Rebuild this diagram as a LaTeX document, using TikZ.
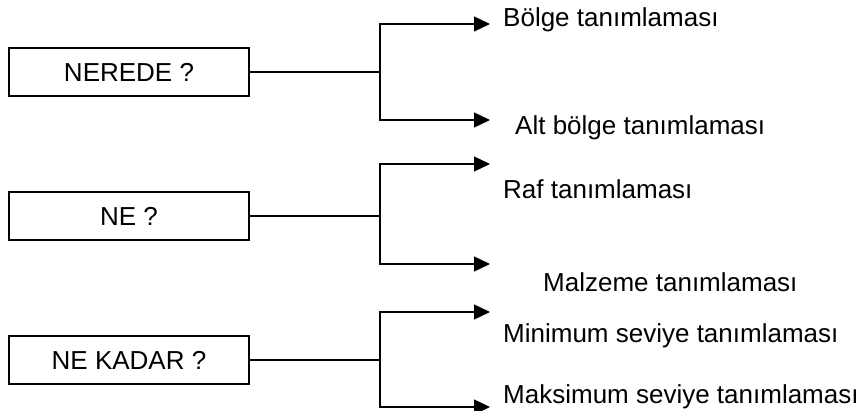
\documentclass[tikz,border=0pt]{standalone}
\usepackage{fontspec}
\setmainfont{Liberation Sans}
\usetikzlibrary{arrows.meta}
\begin{document}
\begin{tikzpicture}[x=1pt,y=-1pt,
  qbox/.style={draw,line width=1.2pt,minimum width=240pt,minimum height=48pt,inner sep=0pt,font=\fontsize{26}{30}\selectfont},
  lab/.style={anchor=base west,inner sep=0pt,font=\fontsize{26}{30}\selectfont},
  conn/.style={line width=1.2pt},
  arr/.style={line width=1.2pt,-{Triangle[length=16pt,width=15pt]}}]
\useasboundingbox (0,0) rectangle (866,411);
% boxes
\node[qbox] (b1) at (129,72) {NEREDE ?};
\node[qbox] (b2) at (129,216) {NE ?};
\node[qbox] (b3) at (129,360) {NE KADAR ?};
% junctions
\coordinate (j1) at (380,72);
\coordinate (j2) at (380,216);
\coordinate (j3) at (380,360);
% arrow ends
\coordinate (e1) at (490,24);
\coordinate (e2) at (490,120);
\coordinate (e3) at (490,164);
\coordinate (e4) at (490,264);
\coordinate (e5) at (490,312);
\coordinate (e6) at (490,407);
% labels
\node[lab] (t1) at (503,27) {Bölge tanımlaması};
\node[lab] (t2) at (515,135) {Alt bölge tanımlaması};
\node[lab] (t3) at (503,199) {Raf tanımlaması};
\node[lab] (t4) at (543,291) {Malzeme tanımlaması};
\node[lab] (t5) at (503,342) {Minimum seviye tanımlaması};
\node[lab] (t6) at (503,403) {Maksimum seviye tanımlaması};
% connectors
\draw[conn] (b1.east) -- (j1);
\draw[conn] (b2.east) -- (j2);
\draw[conn] (b3.east) -- (j3);
\draw[arr] (j1) |- (e1);
\draw[arr] (j1) |- (e2);
\draw[arr] (j2) |- (e3);
\draw[arr] (j2) |- (e4);
\draw[arr] (j3) |- (e5);
\draw[arr] (j3) |- (e6);
\end{tikzpicture}
\end{document}
